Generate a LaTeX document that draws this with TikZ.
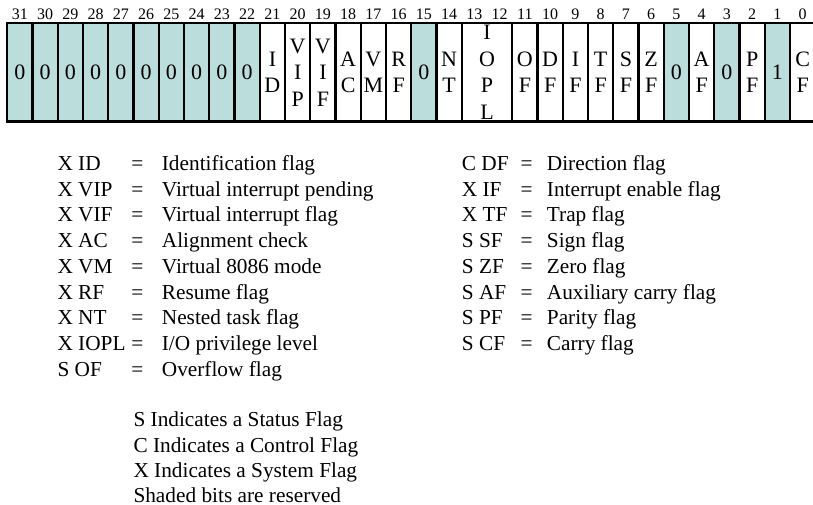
\documentclass[tikz,border=0pt]{standalone}
\usepackage{fontspec}
\setmainfont{Liberation Serif}
\definecolor{rsv}{RGB}{187,221,219}
\begin{document}
\begin{tikzpicture}[x=1pt,y=-1pt,
  cellbox/.style={draw=black, line width=2.2pt, minimum width=25.25pt, minimum height=98.2pt,
     inner sep=0pt, outer sep=0pt, align=center, fill=white,
     font=\fontsize{22}{26.5}\selectfont},
  rsvbox/.style={cellbox, fill=rsv},
  bitnum/.style={anchor=base, inner sep=0pt, font=\fontsize{16}{16}\selectfont},
  legtxt/.style={anchor=base west, inner sep=0pt, font=\fontsize{21.3}{26}\selectfont},
  legeq/.style={anchor=base, inner sep=0pt, font=\fontsize{21.3}{26}\selectfont}]
\useasboundingbox (0,0) rectangle (813,505);
\clip (0,0) rectangle (813,505);
\def\w{25.25}
\def\xl{7.3}
\def\yc{72.4}
% reserved zero bits 31..22
\foreach \b in {31,30,...,22}{
  \node[rsvbox] (b\b) at ({\xl+(31-\b+0.5)*\w},\yc) {0};
}
\node[cellbox] (b21) at ({\xl+(31-21+0.5)*\w},\yc) {I\\D};
\node[cellbox] (b20) at ({\xl+(31-20+0.5)*\w},\yc) {V\\I\\P};
\node[cellbox] (b19) at ({\xl+(31-19+0.5)*\w},\yc) {V\\I\\F};
\node[cellbox] (b18) at ({\xl+(31-18+0.5)*\w},\yc) {A\\C};
\node[cellbox] (b17) at ({\xl+(31-17+0.5)*\w},\yc) {V\\M};
\node[cellbox] (b16) at ({\xl+(31-16+0.5)*\w},\yc) {R\\F};
\node[rsvbox]  (b15) at ({\xl+(31-15+0.5)*\w},\yc) {0};
\node[cellbox] (b14) at ({\xl+(31-14+0.5)*\w},\yc) {N\\T};
\node[cellbox, minimum width=50.5pt] (b13) at ({\xl+(31-13+1)*\w},\yc) {I\\O\\P\\L};
\node[cellbox] (b11) at ({\xl+(31-11+0.5)*\w},\yc) {O\\F};
\node[cellbox] (b10) at ({\xl+(31-10+0.5)*\w},\yc) {D\\F};
\node[cellbox] (b9) at ({\xl+(31-9+0.5)*\w},\yc) {I\\F};
\node[cellbox] (b8) at ({\xl+(31-8+0.5)*\w},\yc) {T\\F};
\node[cellbox] (b7) at ({\xl+(31-7+0.5)*\w},\yc) {S\\F};
\node[cellbox] (b6) at ({\xl+(31-6+0.5)*\w},\yc) {Z\\F};
\node[rsvbox]  (b5) at ({\xl+(31-5+0.5)*\w},\yc) {0};
\node[cellbox] (b4) at ({\xl+(31-4+0.5)*\w},\yc) {A\\F};
\node[rsvbox]  (b3) at ({\xl+(31-3+0.5)*\w},\yc) {0};
\node[cellbox] (b2) at ({\xl+(31-2+0.5)*\w},\yc) {P\\F};
\node[rsvbox]  (b1) at ({\xl+(31-1+0.5)*\w},\yc) {1};
\node[cellbox] (b0) at ({\xl+(31-0+0.5)*\w},\yc) {C\\F};
% bit numbers
\foreach \b in {31,30,...,0}{
  \node[bitnum] (n\b) at ({\xl+(31-\b+0.5)*\w},20) {\b};
}
% legend, left column
\foreach \a/\d [count=\i from 0] in {X ID/Identification flag, X VIP/Virtual interrupt pending,
   X VIF/Virtual interrupt flag, X AC/Alignment check, X VM/Virtual 8086 mode,
   X RF/Resume flag, X NT/Nested task flag, X IOPL/I\slash O privilege level, S OF/Overflow flag}{
  \node[legtxt] (la\i) at (57.3,{170.3+25.75*\i}) {\a};
  \node[legeq] (le\i) at (137.5,{170.3+25.75*\i}) {=};
  \node[legtxt] (ld\i) at (161.7,{170.3+25.75*\i}) {\d};
}
% legend, right column
\foreach \a/\d [count=\i from 0] in {C DF/Direction flag, X IF/Interrupt enable flag,
   X TF/Trap flag, S SF/Sign flag, S ZF/Zero flag, S AF/Auxiliary carry flag,
   S PF/Parity flag, S CF/Carry flag}{
  \node[legtxt] (ra\i) at (461.7,{170.3+25.75*\i}) {\a};
  \node[legeq] (re\i) at (526.7,{170.3+25.75*\i}) {=};
  \node[legtxt] (rd\i) at (546.7,{170.3+25.75*\i}) {\d};
}
% notes
\node[legtxt] (s1) at (133.3,426.8) {S Indicates a Status Flag};
\node[legtxt] (s2) at (133.3,452.3) {C Indicates a Control Flag};
\node[legtxt] (s3) at (133.3,477.5) {X Indicates a System Flag};
\node[legtxt] (s4) at (133.3,502) {Shaded bits are reserved};
\end{tikzpicture}
\end{document}
